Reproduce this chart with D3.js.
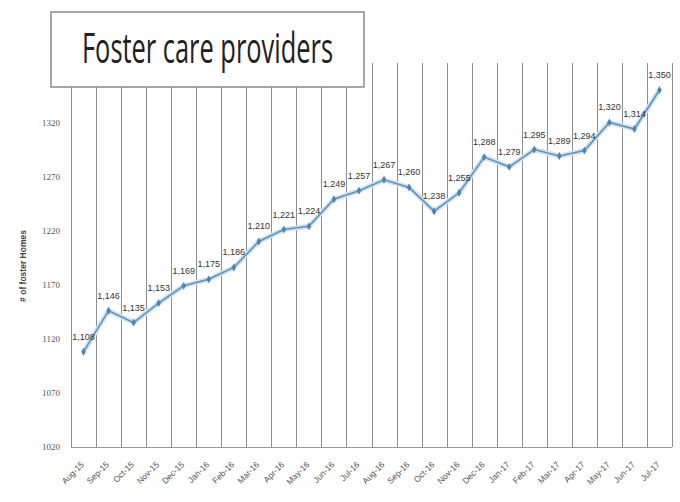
<!DOCTYPE html>
<html>
<head>
<meta charset="utf-8">
<script src="https://cdn.jsdelivr.net/npm/d3@7"></script>
<style>
  body { margin: 0; background: #fff; }
  svg { display: block; }
</style>
</head>
<body>
<div id="chart"></div>
<script>
// months on the x axis
var months = ["Aug-15","Sep-15","Oct-15","Nov-15","Dec-15","Jan-16","Feb-16","Mar-16",
  "Apr-16","May-16","Jun-16","Jul-16","Aug-16","Sep-16","Oct-16","Nov-16","Dec-16",
  "Jan-17","Feb-17","Mar-17","Apr-17","May-17","Jun-17","Jul-17"];
// number of foster homes
var homes = [1108,1146,1135,1153,1169,1175,1186,1210,1221,1224,1249,1257,1267,1260,
  1238,1255,1288,1279,1295,1289,1294,1320,1314,1350];
var yTicks = [1020,1070,1120,1170,1220,1270,1320];
var title = "Foster care providers";
var yTitle = "# of foster Homes";

var w = 680, h = 502;
var svg = d3.select("#chart").append("svg")
  .attr("width", w)
  .attr("height", h);

var x = d3.scaleBand().domain(months).range([71, 672]);
var y = d3.scaleLinear().domain([1020, 1375]).range([447, 63]);

// vertical lines on the category boundaries
var bounds = months.map(function(m){ return x(m); }).concat([x.range()[1]]);
svg.append("g").selectAll("line")
  .data(bounds)
  .enter()
  .append("line")
  .attr("x1", function(d){ return Math.round(d) + 0.5; })
  .attr("x2", function(d){ return Math.round(d) + 0.5; })
  .attr("y1", y.range()[1])
  .attr("y2", y.range()[0])
  .attr("stroke", "#8f8f8f")
  .attr("stroke-width", 1);

// bottom line
svg.append("line")
  .attr("x1", x.range()[0]).attr("x2", x.range()[1])
  .attr("y1", y(1020) + 0.5).attr("y2", y(1020) + 0.5)
  .attr("stroke", "#9a9a9a");

// y axis
var yAxis = svg.append("g")
  .attr("transform", "translate(71,0)")
  .call(d3.axisLeft(y).tickValues(yTicks).tickSize(0).tickPadding(11).tickFormat(d3.format("d")));
yAxis.select(".domain").remove();
yAxis.selectAll("text")
  .attr("font-family", "Liberation Serif, serif")
  .attr("font-size", "9px")
  .attr("fill", "#555");

// x axis
var xAxis = svg.append("g")
  .attr("transform", "translate(0,447)")
  .call(d3.axisBottom(x).tickSize(0));
xAxis.select(".domain").remove();
xAxis.selectAll("text")
  .attr("x", 0)
  .attr("y", 0)
  .attr("dy", "0.35em")
  .attr("transform", "translate(-1,16) rotate(-45)")
  .style("text-anchor", "end")
  .attr("font-family", "Liberation Sans, sans-serif")
  .attr("font-size", "8.5px")
  .attr("fill", "#555");

// y title
svg.append("text")
  .attr("transform", "translate(26,266) rotate(-90)")
  .attr("text-anchor", "middle")
  .attr("font-family", "Liberation Sans, sans-serif")
  .attr("font-weight", "bold")
  .attr("font-size", "8.5px")
  .attr("fill", "#444")
  .text(yTitle);

var cx = function(d, i){ return x(months[i]) + x.bandwidth() / 2; };
var line = d3.line()
  .x(function(d, i){ return cx(d, i); })
  .y(function(d){ return y(d); });

// soft glow under the line
svg.append("path")
  .datum(homes)
  .attr("d", line)
  .attr("fill", "none")
  .attr("stroke", "#cfe2ef")
  .attr("stroke-width", 5)
  .attr("stroke-linejoin", "round");

svg.append("path")
  .datum(homes)
  .attr("d", line)
  .attr("fill", "none")
  .attr("stroke", "#5d92bd")
  .attr("stroke-width", 1.6);

svg.selectAll("path.marker")
  .data(homes)
  .enter()
  .append("path")
  .attr("class", "marker")
  .attr("d", d3.symbol().type(d3.symbolDiamond).size(18))
  .attr("transform", function(d, i){ return "translate(" + cx(d, i) + "," + y(d) + ")"; })
  .attr("fill", "#4f84b0");

// data labels
svg.selectAll("text.lbl")
  .data(homes)
  .enter()
  .append("text")
  .attr("class", "lbl")
  .attr("x", function(d, i){ return cx(d, i); })
  .attr("y", function(d){ return y(d) - 12; })
  .attr("text-anchor", "middle")
  .attr("font-family", "Liberation Sans, sans-serif")
  .attr("font-size", "9px")
  .attr("fill", "#333")
  .text(function(d){ return d3.format(",")(d); });

// title box
svg.append("rect")
  .attr("x", 51).attr("y", 12)
  .attr("width", 313).attr("height", 75)
  .attr("fill", "#fff")
  .attr("stroke", "#8a8a8a")
  .attr("stroke-width", 1.5);

svg.append("text")
  .attr("x", 82)
  .attr("y", 63)
  .attr("font-family", "Open Sans, sans-serif")
  .attr("font-size", "42px")
  .attr("fill", "#222")
  .attr("textLength", 251)
  .attr("lengthAdjust", "spacingAndGlyphs")
  .text(title);
</script>
</body>
</html>
